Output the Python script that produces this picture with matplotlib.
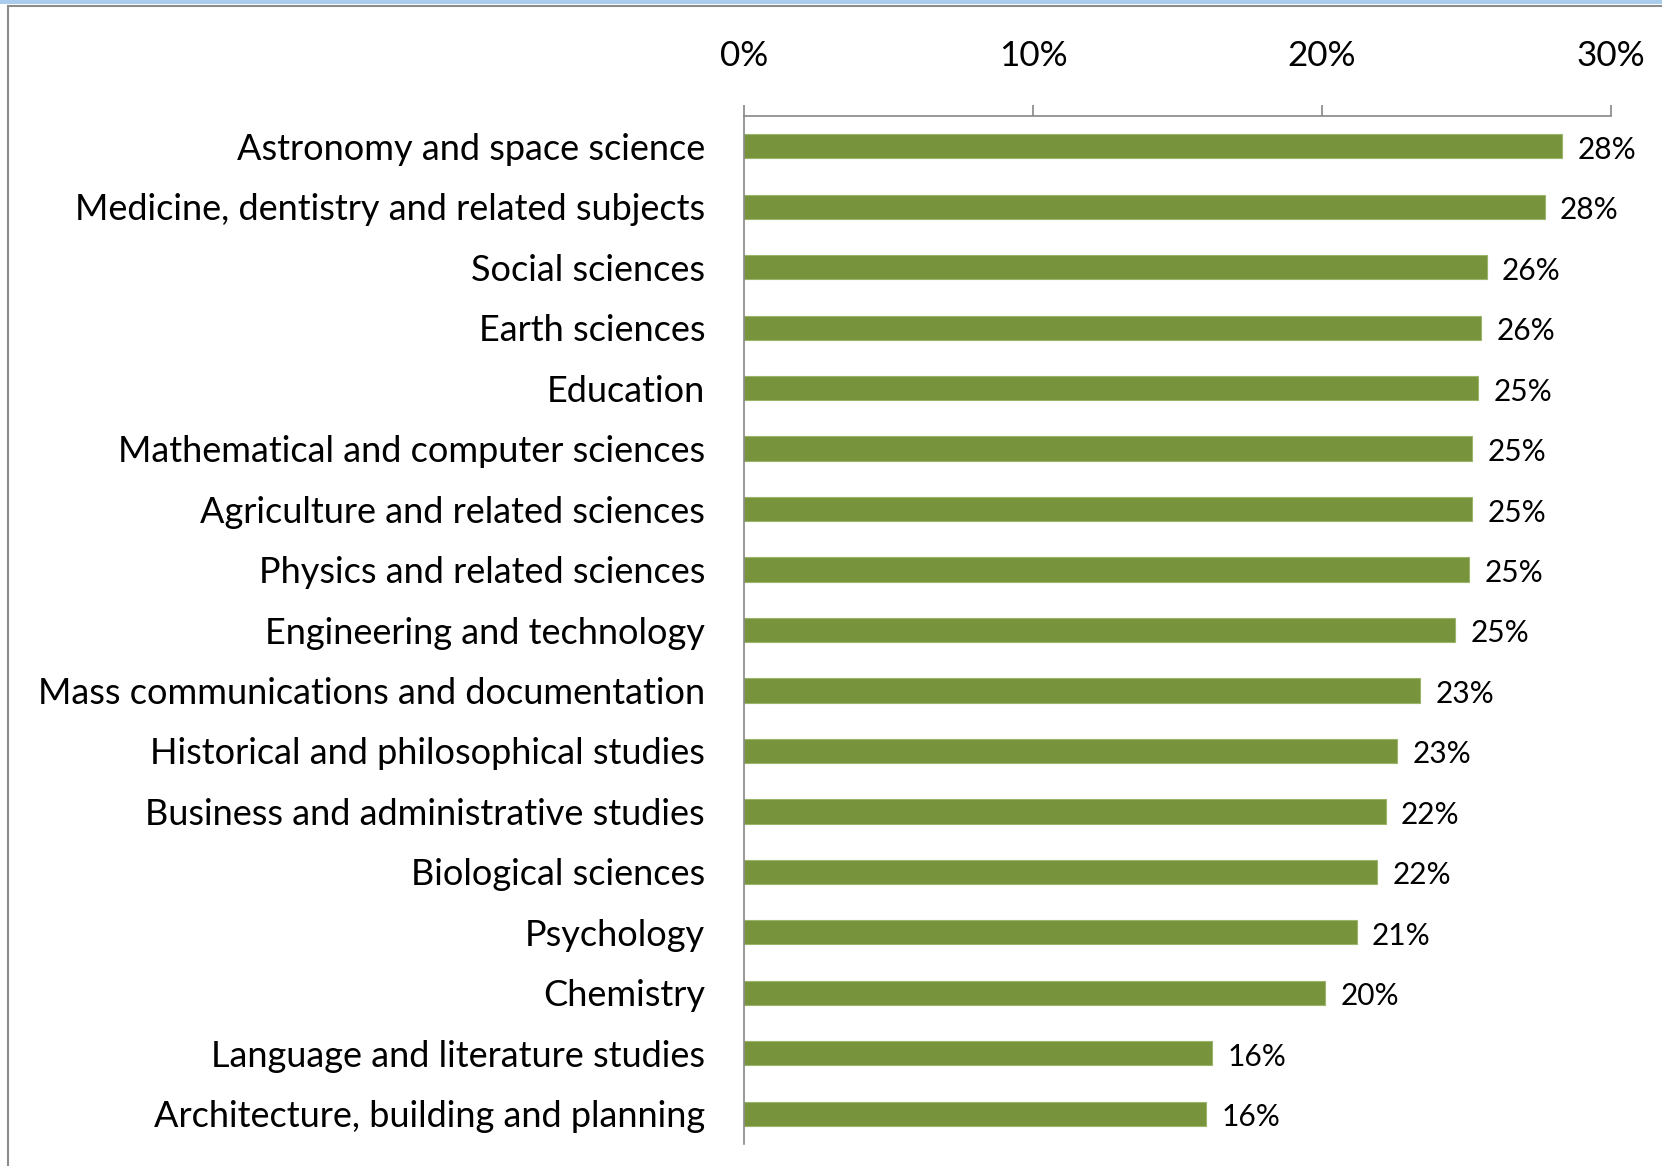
import matplotlib
matplotlib.use("Agg")
import matplotlib.pyplot as plt
from matplotlib.lines import Line2D
from matplotlib.patches import Rectangle
from matplotlib.ticker import FuncFormatter

categories = [
    "Astronomy and space science",
    "Medicine, dentistry and related subjects",
    "Social sciences",
    "Earth sciences",
    "Education",
    "Mathematical and computer sciences",
    "Agriculture and related sciences",
    "Physics and related sciences",
    "Engineering and technology",
    "Mass communications and documentation",
    "Historical and philosophical studies",
    "Business and administrative studies",
    "Biological sciences",
    "Psychology",
    "Chemistry",
    "Language and literature studies",
    "Architecture, building and planning",
]
values = [28.3, 27.7, 25.7, 25.5, 25.4, 25.2, 25.2, 25.1, 24.6, 23.4, 22.6, 22.2, 21.9, 21.2, 20.1, 16.2, 16.0]
value_labels = ["28%", "28%", "26%", "26%", "25%", "25%", "25%", "25%", "25%", "23%", "23%", "22%", "22%", "21%", "20%", "16%", "16%"]
x_ticks = [0, 10, 20, 30]

plt.rcParams['font.family'] = ['Lato', 'DejaVu Sans']

W, H = 1662, 1166
fig = plt.figure(figsize=(W / 100, H / 100), dpi=100)
ax = fig.add_axes([744 / W, 1 - 1144 / H, (1611 - 744) / W, (1144 - 116) / H])

y = list(range(len(categories)))
ax.barh(y, values, height=0.4, color="#77933C", edgecolor="#9BB56A", linewidth=0.8)
for yi, v, lab in zip(y, values, value_labels):
    ax.annotate(lab, xy=(v, yi), xytext=(11, -2.5), textcoords="offset points",
                va="center", ha="left", fontsize=21.5, color="black")

ax.set_xlim(0, 30)
ax.set_ylim(len(categories) - 0.5, -0.5)
ax.set_yticks(y)
ax.set_yticklabels(categories, fontsize=26)
ax.set_xticks(x_ticks)
ax.xaxis.set_major_formatter(FuncFormatter(lambda v, p: f"{v:.0f}%"))
ax.xaxis.tick_top()
ax.tick_params(axis="x", direction="out", length=8, width=1.2, color="#868686",
               pad=24, labelsize=25.3)
ax.tick_params(axis="y", length=0, pad=28)

for s in ["right", "bottom"]:
    ax.spines[s].set_visible(False)
for s in ["top", "left"]:
    ax.spines[s].set_color("#868686")
    ax.spines[s].set_linewidth(1.2)

# window frame
fig.add_artist(Rectangle((0, 1 - 4 / H), 1, 4 / H, transform=fig.transFigure,
                         facecolor="#A9CDEB", edgecolor="none"))
fig.add_artist(Line2D([8 / W, 1], [1 - 5.5 / H, 1 - 5.5 / H], transform=fig.transFigure,
                      color="#8C8C8C", linewidth=1.5))
fig.add_artist(Line2D([8 / W, 8 / W], [0, 1 - 5.5 / H], transform=fig.transFigure,
                      color="#8C8C8C", linewidth=1.5))

fig.savefig("out.png", dpi=100)
